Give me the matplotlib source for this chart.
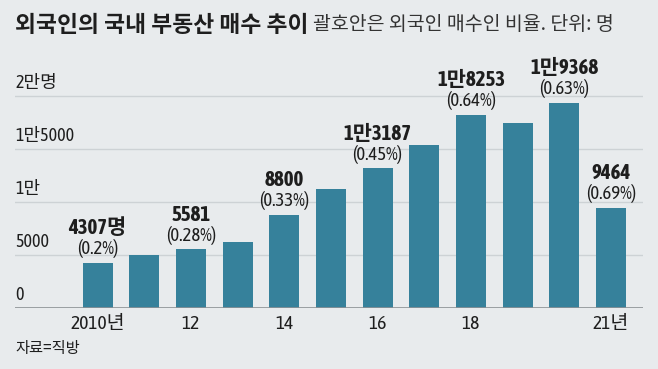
import matplotlib
matplotlib.use("Agg")
import matplotlib.pyplot as plt
from matplotlib import font_manager
import matplotlib.patheffects as pe
import numpy as np

# data (명)
years = [2010, 2011, 2012, 2013, 2014, 2015, 2016, 2017, 2018, 2019, 2020, 2021]
buyers = [4307, 5016, 5581, 6270, 8800, 11210, 13187, 15360, 18253, 17460, 19368, 9464]
# labelled bars: year -> (value text, ratio text)
labels = {2010: ("4307명", "(0.2%)"),
          2012: ("5581", "(0.28%)"),
          2014: ("8800", "(0.33%)"),
          2016: ("1만3187", "(0.45%)"),
          2018: ("1만8253", "(0.64%)"),
          2020: ("1만9368", "(0.63%)"),
          2021: ("9464", "(0.69%)")}
yticks = [0, 5000, 10000, 15000, 20000]
yticklabels = ["0", "5000", "1만", "1만5000", "2만명"]
xtick_years = [2010, 2012, 2014, 2016, 2018, 2021]
xticklabels = ["2010년", "12", "14", "16", "18", "21년"]

kr = "Noto Sans CJK KR"
# narrow latin face for the digits, Korean falls back to Noto
narrow_fonts = {}
for f in font_manager.fontManager.ttflist:
    if "Narrow" in f.name or "Condensed" in f.name:
        narrow_fonts.setdefault(f.name, set()).add(f.weight)
narrow_name = None
has_bold = False
for name, weights in narrow_fonts.items():
    if any(w in ("bold", 700, "700") for w in weights):
        narrow_name, has_bold = name, True
        break
if narrow_name is None and narrow_fonts:
    narrow_name = sorted(narrow_fonts)[0]
narrow = [narrow_name, kr] if narrow_name else [kr]
size_k = 1.0 if narrow_name else 0.9
# fake the bold weight with a thin stroke if the narrow face has no bold file
bold_fx = [] if has_bold else [pe.withStroke(linewidth=0.9, foreground="#1e1e1e")]

bg = "#e8ebed"
bar_color = "#36819b"
txt = "#1e1e1e"

W, H = 658, 369
fig = plt.figure(figsize=(W / 100, H / 100), dpi=100, facecolor=bg)

# axes placed in pixel units
x0, x1 = 15, 643
base, top = 308.3, 60
ax = fig.add_axes([x0 / W, 1 - base / H, (x1 - x0) / W, (base - top) / H])
ax.set_facecolor(bg)

px_per_k = (308.3 - 96) / 20.0
ax.set_ylim(0, 20000 + (96 - top) / px_per_k * 1000)
step = 46.7
ax.set_xlim(-(97.6 - x0) / step, 11 + (x1 - 611) / step)

idx = np.arange(len(years))
for v in yticks[1:]:
    ax.axhline(v, color="#cdd2d5", lw=1, zorder=0)
ax.axhline(0, color="#8c9195", lw=1.2, zorder=3)
ax.bar(idx, buyers, width=30 / step, color=bar_color, zorder=2)

for s in ax.spines.values():
    s.set_visible(False)
ax.set_xticks([])
ax.set_yticks([])

for v, t in zip(yticks, yticklabels):
    ax.annotate(t, (0, v), xycoords=ax.get_yaxis_transform(), xytext=(0, 4),
                textcoords="offset pixels", ha="left", va="bottom",
                fontsize=13 * size_k, color=txt, family=narrow)

for y, t in zip(xtick_years, xticklabels):
    i = years.index(y)
    ax.annotate(t, (i, 0), xytext=(0, -16), textcoords="offset pixels",
                ha="center", va="center", fontsize=14 * size_k, color=txt,
                family=narrow, annotation_clip=False)

for y, (val, pct) in labels.items():
    i = years.index(y)
    h = buyers[i]
    ax.annotate(pct, (i, h), xytext=(0, 14), textcoords="offset pixels",
                ha="center", va="center", fontsize=13.5 * size_k, color=txt,
                family=narrow, annotation_clip=False)
    ax.annotate(val, (i, h), xytext=(0, 34.5), textcoords="offset pixels",
                ha="center", va="center", fontsize=15 * size_k, fontweight="bold",
                color=txt, family=narrow, annotation_clip=False,
                path_effects=bold_fx)

fig.text(15 / W, 1 - 26 / H, "외국인의 국내 부동산 매수 추이", ha="left", va="center",
         fontsize=16.4, fontweight="bold", color=txt, family=kr)
fig.text(313 / W, 1 - 25 / H, "괄호안은 외국인 매수인 비율. 단위: 명", ha="left", va="center",
         fontsize=14, color="#333333", family=kr)
fig.text(15 / W, 1 - 348 / H, "자료=직방", ha="left", va="center",
         fontsize=11, color=txt, family=kr)

fig.savefig("out.png", dpi=100, facecolor=bg)
